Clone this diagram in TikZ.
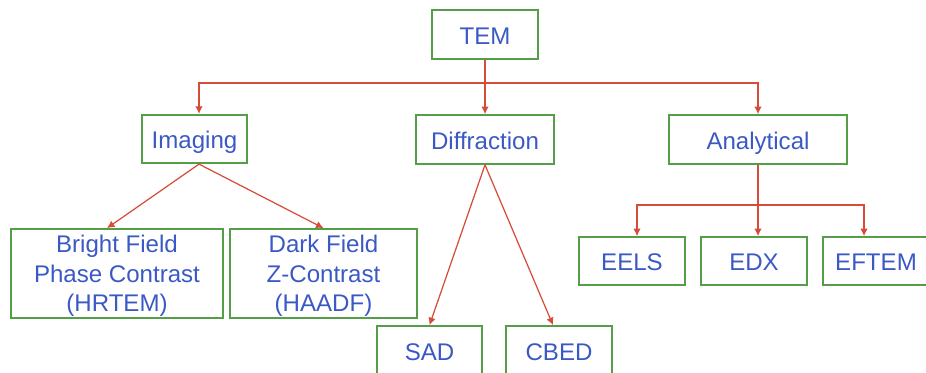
\documentclass[tikz,border=0pt]{standalone}
\usepackage{fontspec}
\setmainfont{Liberation Sans}
\usetikzlibrary{arrows.meta}

\definecolor{boxgreen}{RGB}{84,158,72}
\definecolor{linkred}{RGB}{214,76,56}
\definecolor{textblue}{RGB}{59,89,196}

\begin{document}
\begin{tikzpicture}[x=0.02cm,y=-0.02cm,
	box/.style={rectangle,draw=boxgreen,line width=1pt,inner sep=0pt,align=center,text=textblue,font=\fontsize{13.7pt}{16.8pt}\selectfont,text height=0.39cm,text depth=0pt},
	tallbox/.style={box,text height=1.54cm},
	link/.style={draw=linkred,line width=0.7pt},
	arrow/.style={link,-{Latex[length=1.5mm,width=1.5mm]}}]
	\clip (0,0) rectangle (926,372);

	\draw[] (485,34.5) node[box,minimum width=2.12cm,minimum height=0.98cm] (tem) {TEM};

	\draw[] (194.5,139) node[box,minimum width=2.1cm,minimum height=0.97cm] (imaging) {Imaging};
	\draw[] (485,139.5) node[box,minimum width=2.76cm,minimum height=0.98cm] (diffraction) {Diffraction};
	\draw[] (758,139.5) node[box,minimum width=3.56cm,minimum height=0.98cm] (analytical) {Analytical};

	\draw[] (117,273.5) node[tallbox,minimum width=4.24cm,minimum height=1.78cm] (bright) {Bright Field\\Phase Contrast\\(HRTEM)};
	\draw[] (323.5,273.5) node[tallbox,minimum width=3.74cm,minimum height=1.78cm] (dark) {Dark Field\\Z-Contrast\\(HAADF)};

	\draw[] (429.5,351) node[box,minimum width=2.1cm,minimum height=1cm] (sad) {SAD};
	\draw[] (559,351) node[box,minimum width=2.12cm,minimum height=1cm] (cbed) {CBED};

	\draw[] (632,261) node[box,minimum width=2.12cm,minimum height=0.96cm] (eels) {EELS};
	\draw[] (754,261) node[box,minimum width=2.12cm,minimum height=0.96cm] (edx) {EDX};
	\draw[] (876,261) node[box,minimum width=2.12cm,minimum height=0.96cm] (eftem) {EFTEM};

	\coordinate (tembus) at (tem.south |- 0,83);
	\coordinate (anabus) at (analytical.south |- 0,205);

	\draw[link] (tem.south) -- (tembus);
	\draw[arrow] (tembus) -| ([xshift=0.09cm]imaging.north);
	\draw[arrow] (tembus) -- (diffraction.north);
	\draw[arrow] (tembus) -| (analytical.north);

	\draw[arrow] ([xshift=0.09cm]imaging.south) -- ([xshift=-0.2cm]bright.north);
	\draw[arrow] ([xshift=0.09cm]imaging.south) -- (dark.north);

	\draw[arrow] (diffraction.south) -- (sad.north);
	\draw[arrow] (diffraction.south) -- ([xshift=-0.12cm]cbed.north);

	\draw[link] (analytical.south) -- (anabus);
	\draw[arrow] (anabus) -| ([xshift=0.1cm]eels.north);
	\draw[arrow] (anabus) -- (anabus |- edx.north);
	\draw[arrow] (anabus) -| ([xshift=-0.24cm]eftem.north);

\end{tikzpicture}
\end{document}
